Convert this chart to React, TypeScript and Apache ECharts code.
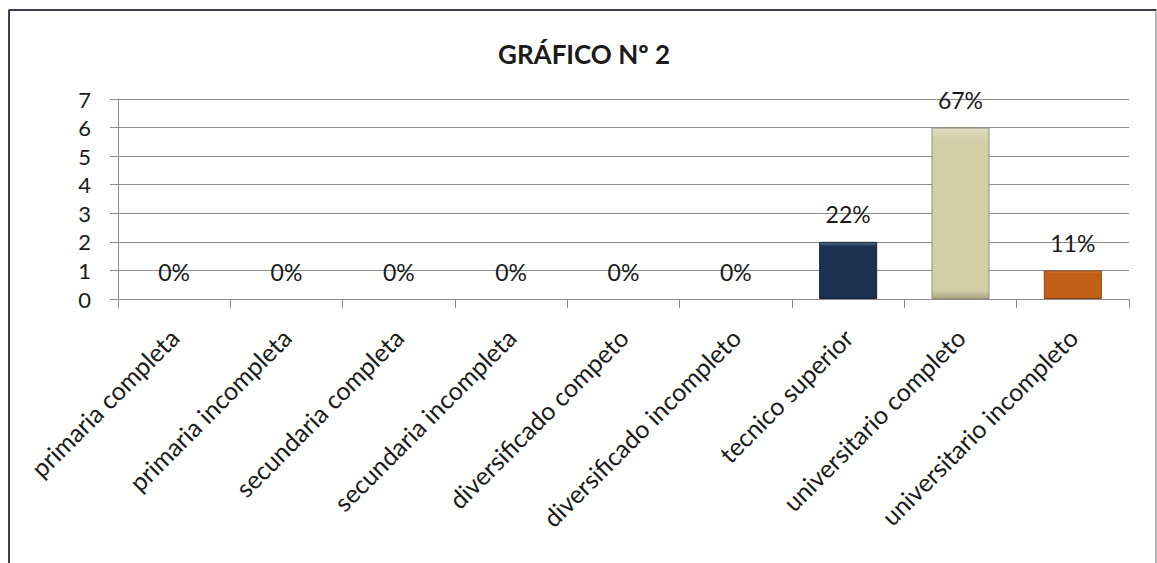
import React, { useEffect, useRef } from "react";
import * as echarts from "echarts";

const title = "GRÁFICO Nº 2";
const categories = [
  "primaria completa",
  "primaria incompleta",
  "secundaria completa",
  "secundaria incompleta",
  "diversificado competo",
  "diversificado incompleto",
  "tecnico superior",
  "universitario completo",
  "universitario incompleto",
];
const values = [0, 0, 0, 0, 0, 0, 2, 6, 1];
const barColors = ["#1f3a5f", "#1f3a5f", "#1f3a5f", "#1f3a5f", "#1f3a5f", "#1f3a5f", "#1c3252", "#d4cea7", "#c45f17"];
const yTicks = [0, 1, 2, 3, 4, 5, 6, 7];

function shade(hex: string, f: number): string {
  const n = parseInt(hex.slice(1), 16);
  let r = (n >> 16) & 255, g = (n >> 8) & 255, b = n & 255;
  const adj = (c: number) => (f >= 0 ? Math.round(c + (255 - c) * f) : Math.round(c * (1 + f)));
  r = adj(r); g = adj(g); b = adj(b);
  return "#" + ((1 << 24) | (r << 16) | (g << 8) | b).toString(16).slice(1);
}

export default function App() {
  const ref = useRef<HTMLDivElement>(null);
  useEffect(() => {
    document.body.style.margin = "0";
    const chart = echarts.init(ref.current!, undefined, { renderer: "svg" });
    const total = values.reduce((a, b) => a + b, 0);
    const font = "Lato, 'Noto Sans', sans-serif";
    chart.setOption({
      animation: false,
      backgroundColor: "#ffffff",
      title: {
        text: title,
        left: 493,
        top: 36,
        textStyle: { fontFamily: font, fontSize: 26, fontWeight: "bold", color: "#1a1a1a" },
      },
      grid: { left: 118, top: 99, right: 28, bottom: 264, containLabel: false },
      xAxis: {
        type: "category",
        data: categories,
        axisLine: { show: true, lineStyle: { color: "#8c8c8c", width: 1 } },
        axisTick: { show: true, alignWithLabel: false, length: 9, lineStyle: { color: "#8c8c8c" } },
        axisLabel: {
          rotate: 45,
          interval: 0,
          margin: 34,
          padding: [16, 0, 0, 0],
          fontFamily: font,
          fontSize: 25,
          color: "#1a1a1a",
        },
      },
      yAxis: {
        type: "value",
        min: yTicks[0],
        max: yTicks[yTicks.length - 1],
        interval: 1,
        axisLine: { show: true, lineStyle: { color: "#8c8c8c", width: 1 } },
        axisTick: { show: true, length: 8, lineStyle: { color: "#8c8c8c" } },
        splitLine: { show: true, lineStyle: { color: "#8c8c8c", width: 1 } },
        axisLabel: { margin: 27, fontFamily: font, fontSize: 22, color: "#1a1a1a" },
      },
      series: [
        {
          type: "bar",
          barWidth: 58,
          data: values.map((v, i) => ({
            value: v,
            itemStyle: {
              color: new echarts.graphic.LinearGradient(0, 0, 0, 1, [
                { offset: 0, color: shade(barColors[i], 0.35) },
                { offset: 0.04, color: shade(barColors[i], 0.1) },
                { offset: 0.08, color: barColors[i] },
                { offset: 0.95, color: barColors[i] },
                { offset: 1, color: shade(barColors[i], -0.2) },
              ]),
              borderColor: shade(barColors[i], -0.3),
              borderWidth: v > 0 ? 1 : 0,
            },
          })),
          label: {
            show: true,
            position: "top",
            distance: 16,
            fontFamily: font,
            fontSize: 23,
            color: "#1a1a1a",
            formatter: (p: any) => Math.round((p.value / total) * 100) + "%",
          },
        },
      ],
      graphic: [
        {
          type: "rect",
          shape: { x: 9, y: 10, width: 1147, height: 620 },
          style: { fill: "none", stroke: "#b8b8b8", lineWidth: 2 },
          silent: true,
        },
        {
          type: "line",
          shape: { x1: 9, y1: 10, x2: 1156, y2: 10 },
          style: { stroke: "#3c3c4e", lineWidth: 2 },
          silent: true,
        },
        {
          type: "line",
          shape: { x1: 9, y1: 10, x2: 9, y2: 563 },
          style: { stroke: "#3c3c4e", lineWidth: 2 },
          silent: true,
        },
      ],
    });
    return () => chart.dispose();
  }, []);
  return (
    <div
      ref={ref}
      style={{ position: "fixed", left: 0, top: 0, width: 1157, height: 563 }}
    />
  );
}
